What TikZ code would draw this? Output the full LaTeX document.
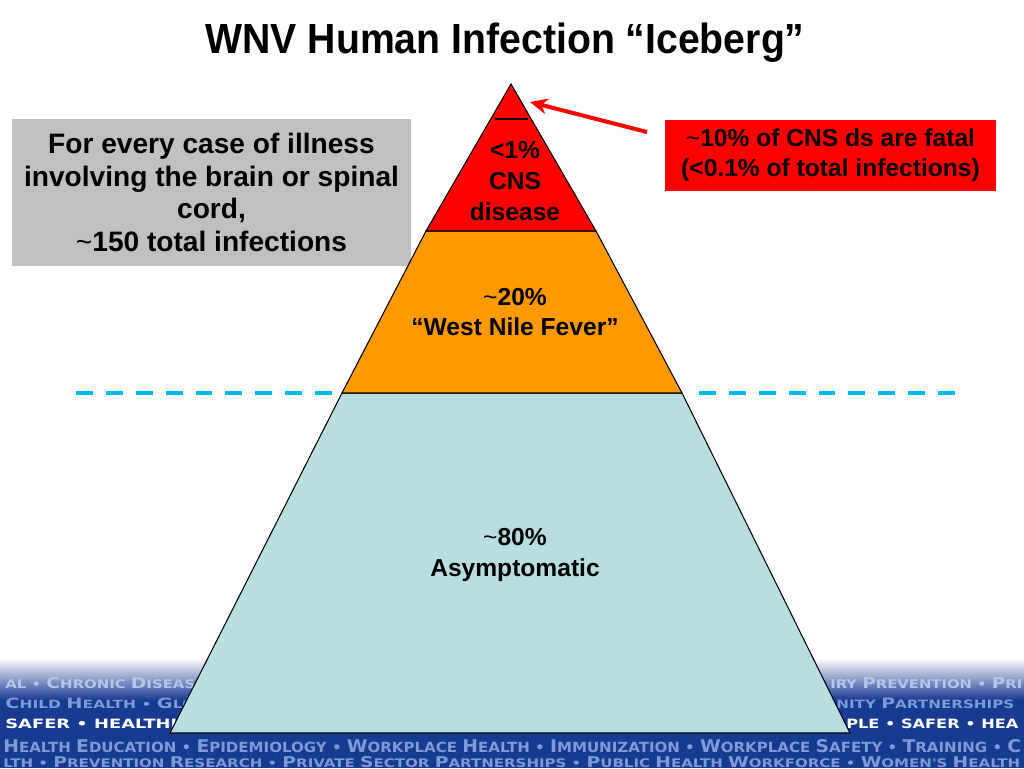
\documentclass[tikz,border=0pt]{standalone}
\usepackage{fontspec}
\usepackage{graphicx}
\setmainfont{Liberation Sans}
\newfontfamily\bannerfont{DejaVu Sans}
\usetikzlibrary{arrows.meta}
\definecolor{cnsred}{RGB}{255,0,0}
\definecolor{fever}{RGB}{255,153,0}
\definecolor{asymblue}{RGB}{183,222,225}
\definecolor{notegray}{RGB}{192,192,192}
\definecolor{water}{RGB}{0,185,240}
\definecolor{bannerblue}{RGB}{24,58,145}
\definecolor{bannertext}{RGB}{125,155,215}
\definecolor{bannerfade}{RGB}{180,198,232}
\newcommand\bigc[1]{{\fontsize{10}{10}\selectfont #1}}
\newcommand\tl{{\mdseries\textasciitilde}}
\tikzset{
  layer/.style={draw=black, line width=0.6pt},
  bantext/.style={anchor=base west, inner sep=0pt, text=bannertext, font=\bannerfont\bfseries\fontsize{8}{8}\selectfont},
  waterline/.style={water, line width=2.3pt, dash pattern=on 9.64pt off 7.37pt},
  layertext/.style={align=center, font=\bfseries\fontsize{14}{17.6}\selectfont, inner sep=0pt},
}
\begin{document}
\begin{tikzpicture}[x=0.02cm, y=-0.02cm]
\useasboundingbox (0,0) rectangle (1024,768);
% banner
\begin{scope}
\clip (0,0) rectangle (1024,768);
\shade[top color=white, bottom color=bannerblue] (0,658) rectangle (1024,700);
\fill[bannerblue] (0,699.5) rectangle (1024,768);
\node[bantext, text=bannerfade] (b1l) at (5,688) {\resizebox{3.8cm}{0.22cm}{AL • \bigc{C}HRONIC \bigc{D}ISEAS}};
\node[bantext, text=bannerfade] (b1r) at (830,688) {\resizebox{3.84cm}{0.22cm}{IRY \bigc{P}REVENTION • \bigc{P}RI}};
\node[bantext] (b2l) at (5,708) {\resizebox{3.8cm}{0.21cm}{\bigc{C}HILD \bigc{H}EALTH • \bigc{G}LO}};
\node[bantext] (b2r) at (836,708) {\resizebox{3.56cm}{0.21cm}{NITY \bigc{P}ARTNERSHIPS}};
\node[bantext, text=white] (b3l) at (5,728) {\resizebox{3.44cm}{0.19cm}{\bigc{SAFER • HEALTHI}}};
\node[bantext, text=white] (b3r) at (846,728) {\resizebox{3.44cm}{0.19cm}{\bigc{PLE • SAFER • HEA}}};
\node[bantext] (b4) at (3,752) {\resizebox{20.36cm}{0.26cm}{\bigc{H}EALTH \bigc{E}DUCATION • \bigc{E}PIDEMIOLOGY • \bigc{W}ORKPLACE \bigc{H}EALTH • \bigc{I}MMUNIZATION • \bigc{W}ORKPLACE \bigc{S}AFETY • \bigc{T}RAINING • \bigc{C}}};
\node[bantext] (b5) at (3,767) {\resizebox{20.34cm}{0.22cm}{LTH • \bigc{P}REVENTION \bigc{R}ESEARCH • \bigc{P}RIVATE \bigc{S}ECTOR \bigc{P}ARTNERSHIPS • \bigc{P}UBLIC \bigc{H}EALTH \bigc{W}ORKFORCE • \bigc{W}OMEN'S \bigc{H}EALTH}};
\end{scope}
% note box
\node[fill=notegray, minimum width=7.98cm, minimum height=2.94cm, inner sep=0pt, align=center,
      font=\bfseries\fontsize{16}{18.7}\selectfont] (note) at (211.5,192.5)
  {For every case of illness\\involving the brain or spinal\\cord,\\\tl150 total infections};
% waterline
\coordinate (wl1) at (76,393); \coordinate (wl2) at (333,393);
\coordinate (wr1) at (699,393); \coordinate (wr2) at (957,393);
\draw[waterline] (wl1) -- (wl2);
\draw[waterline] (wr1) -- (wr2);
% pyramid
\coordinate (apex) at (511,84);
\coordinate (r1) at (426,231); \coordinate (r2) at (596,231);
\coordinate (o1) at (342,393); \coordinate (o2) at (682,393);
\coordinate (a1) at (170,733); \coordinate (a2) at (850,733);
\filldraw[layer, fill=asymblue] (o1) -- (o2) -- (a2) -- (a1) -- cycle;
\filldraw[layer, fill=fever] (r1) -- (r2) -- (o2) -- (o1) -- cycle;
\filldraw[layer, fill=cnsred] (apex) -- (r2) -- (r1) -- cycle;
\coordinate (t1) at (495,119); \coordinate (t2) at (528,119);
\draw[black, line width=0.8pt] (t1) -- (t2);
\node[layertext] (cns) at (515,181) {<1\%\\CNS\\disease};
\node[layertext] (wnf) at (515,312) {\tl20\%\\“West Nile Fever”};
\node[layertext] (asym) at (515,555) {\tl80\%\\Asymptomatic};
% fatal box
\node[fill=cnsred, minimum width=6.62cm, minimum height=1.42cm, inner sep=0pt, align=center,
      font=\bfseries\fontsize{14}{17}\selectfont] (fatal) at (830.5,155.5)
  {\tl10\% of CNS ds are fatal\\(<0.1\% of total infections)};
\coordinate (arrtail) at (647,132);
\coordinate (arrtip) at (530,102);
\draw[cnsred, line width=2.3pt, -{Stealth[length=10pt, width=9pt]}] (arrtail) -- (arrtip);
% title
\node[font=\bfseries\fontsize{24}{27}\selectfont, xscale=0.93, inner sep=0pt] (title) at (505,43) {WNV Human Infection “Iceberg”};
\end{tikzpicture}
\end{document}
